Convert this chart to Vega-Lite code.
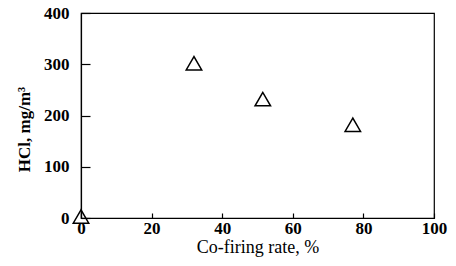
{
  "$schema": "https://vega.github.io/schema/vega-lite/v6.json",
  "autosize": "none",
  "padding": {"left": 81, "top": 13, "right": 22, "bottom": 48},
  "width": 353,
  "height": 205,
  "background": "white",
  "config": {
    "view": {"stroke": "black", "strokeWidth": 1.2},
    "font": "Liberation Serif",
    "axis": {
      "grid": false,
      "domainColor": "black",
      "domainWidth": 1.2,
      "tickColor": "black",
      "tickWidth": 1.2,
      "labelFont": "Liberation Serif",
      "labelFontSize": 17,
      "labelFontWeight": "bold",
      "labelColor": "black",
      "titleFont": "Liberation Serif",
      "titleColor": "black"
    }
  },
  "data": {
    "values": [
      {"rate": 0, "hcl": 3},
      {"rate": 32, "hcl": 302},
      {"rate": 51.5, "hcl": 232},
      {"rate": 77, "hcl": 182}
    ]
  },
  "mark": {"type": "point", "shape": "triangle-up", "filled": false, "stroke": "black", "strokeWidth": 1.5, "size": 240, "opacity": 1, "clip": false},
  "encoding": {
    "x": {
      "field": "rate", "type": "quantitative",
      "scale": {"domain": [0, 100], "nice": false, "zero": false},
      "axis": {"values": [0, 20, 40, 60, 80, 100], "tickSize": -5, "labelPadding": 7, "title": "Co-firing rate, %", "titleFontSize": 18, "titleFontWeight": "normal", "titlePadding": 2, "labelFlush": false}
    },
    "y": {
      "field": "hcl", "type": "quantitative",
      "scale": {"domain": [0, 400], "nice": false},
      "axis": {"values": [0, 100, 200, 300, 400], "tickSize": -9, "labelPadding": 21, "title": "HCl, mg/m³", "titleFontSize": 17, "titleFontWeight": "bold", "titlePadding": 10, "titleY": 116, "labelFlush": false}
    }
  }
}
